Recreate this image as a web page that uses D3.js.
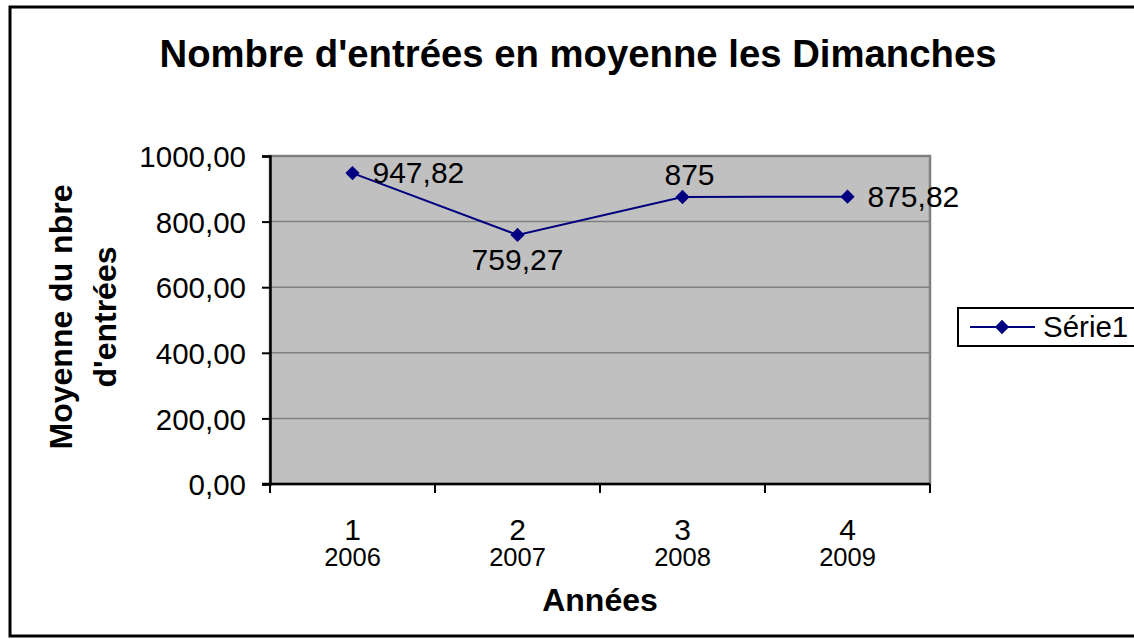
<!DOCTYPE html>
<html>
<head>
<meta charset="utf-8">
<title>Nombre d'entrées</title>
<script src="https://d3js.org/d3.v7.min.js"></script>
<style>
  body { margin: 0; background: #fff; }
  svg text { font-family: "Liberation Sans", Arial, sans-serif; fill: #000; }
</style>
</head>
<body>
<div id="chart"></div>
<script>
// data
var categories = ["1", "2", "3", "4"];
var years = ["2006", "2007", "2008", "2009"];
var values = [947.82, 759.27, 875, 875.82];
var labels = ["947,82", "759,27", "875", "875,82"];
var labelPos = ["right", "below", "above", "right"];
var yTicks = [0, 200, 400, 600, 800, 1000];

var width = 1134, height = 639;
var plot = { left: 270, top: 156, right: 930, bottom: 484 };

var svg = d3.select("#chart").append("svg")
    .attr("width", width)
    .attr("height", height);

// outer frame
svg.append("rect")
    .attr("x", 10).attr("y", 7)
    .attr("width", 1160).attr("height", 629)
    .attr("fill", "#fff")
    .attr("stroke", "#000")
    .attr("stroke-width", 3);

var x = d3.scaleBand()
    .domain(categories)
    .range([plot.left, plot.right]);

var y = d3.scaleLinear()
    .domain([0, 1000])
    .range([plot.bottom, plot.top]);

// plot area
svg.append("rect")
    .attr("x", plot.left).attr("y", plot.top)
    .attr("width", plot.right - plot.left)
    .attr("height", plot.bottom - plot.top)
    .attr("fill", "#c0c0c0")
    .attr("stroke", "#808080")
    .attr("stroke-width", 2.5);

// gridlines
svg.append("g").selectAll("line")
    .data(yTicks.filter(function(d) { return d > 0 && d < 1000; }))
    .enter().append("line")
    .attr("x1", plot.left).attr("x2", plot.right)
    .attr("y1", function(d) { return y(d); })
    .attr("y2", function(d) { return y(d); })
    .attr("stroke", "#808080")
    .attr("stroke-width", 1.5);

// y axis
var fmt = function(d) { return d3.format(".2f")(d).replace(".", ","); };
var yAxis = svg.append("g")
    .attr("transform", "translate(" + plot.left + ",0)")
    .call(d3.axisLeft(y).tickValues(yTicks).tickFormat(fmt).tickSize(8).tickPadding(16));
yAxis.select(".domain").attr("stroke", "#000").attr("stroke-width", 2.5);
yAxis.selectAll(".tick line").attr("stroke", "#000").attr("stroke-width", 2);
yAxis.selectAll(".tick text")
    .attr("font-size", 29.5)
    .attr("font-family", "Liberation Sans, Arial, sans-serif")
    .attr("fill", "#000")
    .attr("dy", "0.36em");

// x axis
var xAxis = svg.append("g")
    .attr("transform", "translate(0," + plot.bottom + ")")
    .call(d3.axisBottom(x).tickSize(0).tickFormat(""));
xAxis.select(".domain").attr("stroke", "#000").attr("stroke-width", 2.5)
    .attr("d", "M" + (plot.left - 8) + ",0H" + plot.right);

var bounds = x.domain().map(function(d) { return x(d); }).concat([plot.right]);
svg.append("g").selectAll("line")
    .data(bounds)
    .enter().append("line")
    .attr("x1", function(d) { return d; }).attr("x2", function(d) { return d; })
    .attr("y1", plot.bottom).attr("y2", plot.bottom + 9)
    .attr("stroke", "#000").attr("stroke-width", 2);

var xl = svg.append("g").selectAll("g")
    .data(categories)
    .enter().append("g")
    .attr("transform", function(d) { return "translate(" + (x(d) + x.bandwidth() / 2) + ",0)"; });
xl.append("text")
    .attr("y", 540)
    .attr("text-anchor", "middle")
    .attr("font-size", 30)
    .text(function(d) { return d; });
xl.append("text")
    .attr("y", 566)
    .attr("text-anchor", "middle")
    .attr("font-size", 25.5)
    .text(function(d, i) { return years[i]; });

// line
var pts = categories.map(function(c, i) {
    return { x: x(c) + x.bandwidth() / 2, y: y(values[i]), label: labels[i], pos: labelPos[i] };
});
svg.append("path")
    .datum(pts)
    .attr("fill", "none")
    .attr("stroke", "#000080")
    .attr("stroke-width", 2)
    .attr("d", d3.line().x(function(d) { return d.x; }).y(function(d) { return d.y; }));

var diamond = d3.symbol().type(d3.symbolDiamond2).size(130);
svg.append("g").selectAll("path")
    .data(pts)
    .enter().append("path")
    .attr("transform", function(d) { return "translate(" + d.x + "," + d.y + ")"; })
    .attr("d", diamond)
    .attr("fill", "#000080");

// data labels
svg.append("g").selectAll("text")
    .data(pts)
    .enter().append("text")
    .attr("font-size", 30)
    .attr("x", function(d) {
        if (d.pos === "right") return d.x + 20;
        if (d.pos === "above") return d.x + 7;
        return d.x;
    })
    .attr("y", function(d) {
        if (d.pos === "right") return d.y + 10;
        if (d.pos === "below") return d.y + 35;
        return d.y - 12;
    })
    .attr("text-anchor", function(d) { return d.pos === "right" ? "start" : "middle"; })
    .text(function(d) { return d.label; });

// title
svg.append("text")
    .attr("x", 578).attr("y", 67)
    .attr("text-anchor", "middle")
    .attr("font-size", 38.3)
    .attr("font-weight", "bold")
    .text("Nombre d'entrées en moyenne les Dimanches");

// axis titles
svg.append("text")
    .attr("x", 600).attr("y", 611)
    .attr("text-anchor", "middle")
    .attr("font-size", 32)
    .attr("font-weight", "bold")
    .text("Années");

var yt = svg.append("text")
    .attr("transform", "translate(72,317) rotate(-90)")
    .attr("text-anchor", "middle")
    .attr("font-size", 32)
    .attr("font-weight", "bold");
yt.append("tspan").attr("x", 0).attr("dy", 0).text("Moyenne du nbre");
yt.append("tspan").attr("x", 0).attr("dy", 44).text("d'entrées");

// legend
var lg = svg.append("g").attr("transform", "translate(958,308)");
lg.append("rect")
    .attr("width", 200).attr("height", 38)
    .attr("fill", "#fff")
    .attr("stroke", "#000")
    .attr("stroke-width", 2);
lg.append("line")
    .attr("x1", 12).attr("x2", 77)
    .attr("y1", 19).attr("y2", 19)
    .attr("stroke", "#000080").attr("stroke-width", 2);
lg.append("path")
    .attr("transform", "translate(44,19)")
    .attr("d", diamond)
    .attr("fill", "#000080");
lg.append("text")
    .attr("x", 85).attr("y", 29)
    .attr("font-size", 29.5)
    .text("Série1");
</script>
</body>
</html>
